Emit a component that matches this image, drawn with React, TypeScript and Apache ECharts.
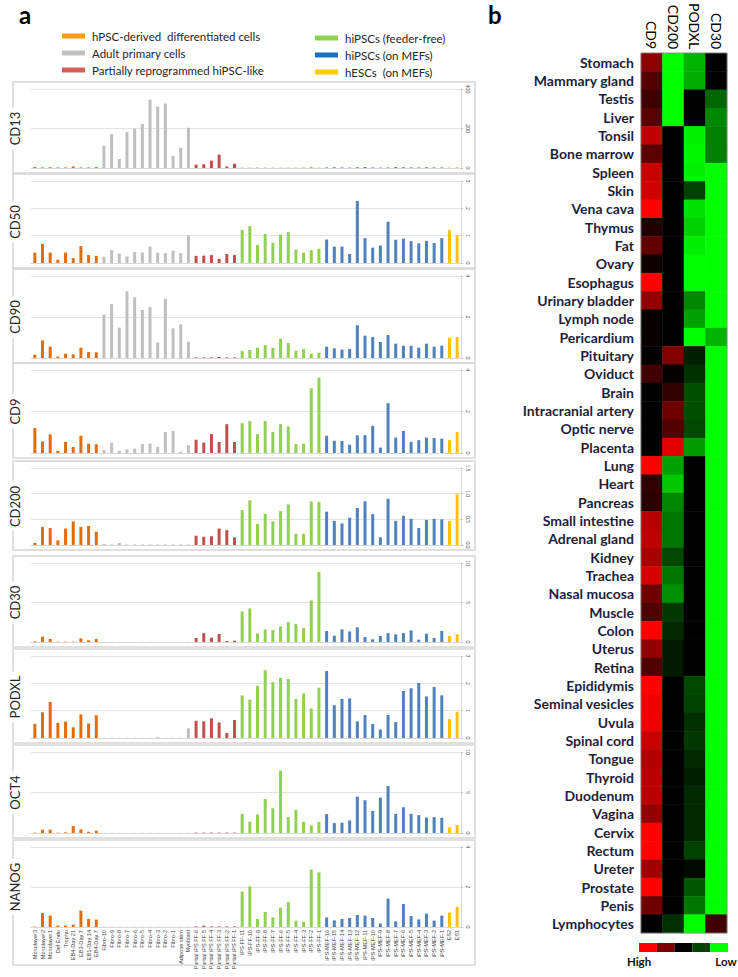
import React, { useEffect, useRef } from "react";
import * as echarts from "echarts";

// ---------- categories (panel a) ----------
const catDiff = ["Monolayer3", "Monolayer2", "Monolayer1", "Def Endo", "Tropho", "EB4-Day 21", "EB3-Day 7", "EB1-Day 14", "EB4-Day 7"];
const catAdult = ["Fibro-10", "Fibro-9", "Fibro-8", "Fibro-7", "Fibro-6", "Fibro-5", "Fibro-4", "Fibro-3", "Fibro-2", "Fibro-1", "Adipose stem", "Myoblast"];
const catPartial = ["Partial iPS FF-6", "Partial iPS FF-5", "Partial iPS FF-4", "Partial iPS FF-3", "Partial iPS FF-2", "Partial iPS FF-1"];
const catFF = ["iPS-FF-11", "iPS-FF-10", "iPS-FF-9", "iPS-FF-8", "iPS-FF-7", "iPS-FF-6", "iPS-FF-5", "iPS-FF-4", "iPS-FF-3", "iPS-FF-2", "iPS-FF-1"];
const catMEF = ["iPS-MEF-16", "iPS-MEF-15", "iPS-MEF-14", "iPS-MEF-13", "iPS-MEF-12", "iPS-MEF-11", "iPS-MEF-10", "iPS-MEF-9", "iPS-MEF-8", "iPS-MEF-7", "iPS-MEF-6", "iPS-MEF-5", "iPS-MEF-4", "iPS-MEF-3", "iPS-MEF-2", "iPS-MEF-1"];
const catES = ["ES2", "ES1"];

const groupNames = ["hPSC-derived  differentiated cells", "Adult primary cells", "Partially reprogrammed hiPSC-like", "hiPSCs (feeder-free)", "hiPSCs (on MEFs)", "hESCs  (on MEFs)"];
const groupCats = [catDiff, catAdult, catPartial, catFF, catMEF, catES];
const barColors = ["#E46C0A", "#BFBFBF", "#C0504D", "#92D050", "#4F81BD", "#FFC000"];
const legendColors = ["#FF9A1A", "#C0C0C0", "#D0605A", "#92D050", "#1F70C0", "#FFCC00"];

// ---------- values per marker (order = categories above) ----------
const CD13 = [5, 3, 4, 3, 3, 8, 3, 3, 5, 113, 172, 46, 182, 199, 223, 346, 311, 326, 62, 103, 204, 17, 19, 37, 68, 8, 22, 2, 2, 3, 2, 2, 2, 2, 2, 3, 6, 2, 3, 4, 3, 2, 4, 5, 3, 2, 3, 5, 4, 3, 3, 4, 3, 3, 2, 4];
const CD50 = [0.38, 0.7, 0.38, 0.12, 0.38, 0.18, 0.62, 0.29, 0.26, 0.23, 0.47, 0.35, 0.24, 0.4, 0.39, 0.6, 0.38, 0.36, 0.45, 0.36, 1.0, 0.26, 0.27, 0.29, 0.15, 0.33, 0.29, 1.21, 1.35, 0.66, 1.06, 0.74, 1.04, 1.13, 0.49, 0.38, 0.47, 0.52, 0.86, 0.6, 0.6, 0.33, 2.27, 0.91, 0.56, 0.64, 1.51, 0.85, 0.89, 0.8, 0.72, 0.81, 0.73, 0.91, 1.21, 1.01];
const CD90 = [0.16, 0.86, 0.55, 0.07, 0.21, 0.18, 0.5, 0.29, 0.28, 2.11, 2.63, 1.48, 3.25, 2.96, 2.34, 2.49, 0.76, 2.89, 1.45, 1.64, 0.8, 0.03, 0.03, 0.03, 0.05, 0.03, 0.03, 0.34, 0.39, 0.5, 0.63, 0.5, 0.94, 0.73, 0.36, 0.44, 0.21, 0.26, 0.55, 0.47, 0.41, 0.44, 1.59, 1.09, 1.02, 0.78, 1.12, 0.7, 0.6, 0.6, 0.5, 0.7, 0.55, 0.6, 0.99, 1.02];
const CD9 = [1.2, 0.56, 0.9, 0.11, 0.54, 0.29, 0.83, 0.45, 0.42, 0.14, 0.5, 0.1, 0.18, 0.21, 0.43, 0.45, 0.3, 1.01, 1.06, 0.06, 0.37, 0.64, 0.5, 0.91, 0.53, 1.39, 0.53, 1.44, 1.54, 0.91, 1.54, 1.02, 1.39, 1.28, 0.43, 0.45, 3.12, 3.63, 0.83, 0.59, 0.58, 0.4, 0.85, 0.86, 1.31, 0.26, 2.4, 0.74, 1.06, 0.54, 0.62, 0.74, 0.72, 0.69, 0.62, 1.01];
const CD200 = [0.04, 0.35, 0.33, 0.09, 0.32, 0.46, 0.35, 0.37, 0.26, 0.02, 0.01, 0.04, 0.01, 0.01, 0.01, 0.01, 0.01, 0.01, 0.01, 0.01, 0.01, 0.18, 0.16, 0.17, 0.32, 0.29, 0.15, 0.68, 0.87, 0.41, 0.61, 0.46, 0.66, 0.79, 0.22, 0.22, 0.85, 0.84, 0.65, 0.47, 0.42, 0.53, 0.72, 0.85, 0.6, 0.15, 0.9, 0.47, 0.57, 0.51, 0.33, 0.49, 0.51, 0.5, 0.47, 0.99];
const CD30 = [0.08, 0.67, 0.38, 0.04, 0.04, 0.04, 0.46, 0.21, 0.38, 0.02, 0.02, 0.02, 0.02, 0.02, 0.02, 0.02, 0.02, 0.02, 0.02, 0.02, 0.02, 0.5, 1.13, 0.55, 1.01, 0.13, 0.17, 3.87, 4.24, 1.09, 1.6, 1.51, 1.97, 2.52, 2.27, 1.76, 5.25, 8.87, 1.39, 0.8, 1.6, 1.34, 1.85, 0.63, 0.34, 0.76, 1.13, 0.97, 1.13, 1.47, 0.29, 1.05, 0.5, 1.39, 0.76, 0.97];
const PODXL = [0.52, 0.94, 1.32, 0.55, 0.6, 0.39, 0.86, 0.53, 0.83, 0.01, 0.01, 0.01, 0.01, 0.01, 0.01, 0.01, 0.03, 0.01, 0.01, 0.01, 0.35, 0.63, 0.61, 0.72, 0.57, 0.18, 0.66, 1.56, 1.4, 1.91, 2.48, 2.04, 2.2, 2.16, 1.43, 1.63, 1.08, 1.84, 2.45, 1.2, 1.43, 1.45, 0.61, 0.84, 0.51, 0.31, 0.84, 0.58, 1.72, 1.82, 2.02, 1.52, 1.87, 1.56, 0.69, 0.96];
const OCT4 = [0.04, 0.41, 0.41, 0.04, 0.08, 0.86, 0.45, 0.16, 0.29, 0.02, 0.02, 0.02, 0.02, 0.02, 0.02, 0.02, 0.02, 0.02, 0.02, 0.02, 0.02, 0.05, 0.05, 0.05, 0.05, 0.05, 0.05, 2.37, 1.39, 2.29, 4.2, 3.06, 7.71, 1.96, 2.86, 1.39, 0.94, 1.35, 2.33, 1.22, 1.27, 1.55, 4.49, 4.04, 2.73, 4.37, 5.8, 2.37, 3.18, 2.37, 2.2, 1.92, 1.96, 1.88, 0.69, 0.98];
const NANOG = [0.02, 0.7, 0.57, 0.07, 0.07, 0.12, 0.82, 0.4, 0.37, 0.01, 0.01, 0.01, 0.01, 0.01, 0.01, 0.01, 0.01, 0.01, 0.01, 0.01, 0.01, 0.03, 0.07, 0.03, 0.03, 0.03, 0.03, 1.77, 2.03, 0.4, 0.75, 0.48, 0.97, 1.25, 0.32, 0.27, 2.87, 2.73, 0.48, 0.33, 0.4, 0.45, 0.6, 0.57, 0.45, 0.17, 1.42, 0.28, 1.15, 0.55, 0.38, 0.67, 0.32, 0.57, 0.72, 1.0];

const markerNames = ["CD13", "CD50", "CD90", "CD9", "CD200", "CD30", "PODXL", "OCT4", "NANOG"];
const markerValues = [CD13, CD50, CD90, CD9, CD200, CD30, PODXL, OCT4, NANOG];
const markerMax = [400, 3, 4, 4, 1.5, 10, 3, 10, 4];
const markerStep = [200, 1, 2, 2, 0.5, 5, 1, 5, 2];

// ---------- heatmap (panel b) ----------
const hmColumns = ["CD9", "CD200", "PODXL", "CD30"];
const tissues = ["Stomach", "Mammary gland", "Testis", "Liver", "Tonsil", "Bone marrow", "Spleen", "Skin", "Vena cava", "Thymus", "Fat", "Ovary", "Esophagus", "Urinary bladder", "Lymph node", "Pericardium", "Pituitary", "Oviduct", "Brain", "Intracranial artery", "Optic nerve", "Placenta", "Lung", "Heart", "Pancreas", "Small intestine", "Adrenal gland", "Kidney", "Trachea", "Nasal mucosa", "Muscle", "Colon", "Uterus", "Retina", "Epididymis", "Seminal vesicles", "Uvula", "Spinal cord", "Tongue", "Thyroid", "Duodenum", "Vagina", "Cervix", "Rectum", "Ureter", "Prostate", "Penis", "Lymphocytes"];
// relative expression: +1 = high (red), 0 = black, -1 = low (green)
const hmCD9 = [0.55, 0.33, 0.25, 0.35, 0.75, 0.35, 0.78, 0.82, 1.0, 0.13, 0.38, 0.06, 1.0, 0.57, 0.03, 0.03, 0, 0.25, 0, 0, 0, 0, 1.0, 0.19, 0.16, 0.72, 0.75, 0.66, 0.85, 0.44, 0.31, 1.0, 0.57, 0.31, 1.0, 0.94, 0.94, 0.78, 0.69, 0.72, 0.72, 0.57, 1.0, 1.0, 0.63, 1.0, 0.44, 0];
const hmCD200 = [-1, -1, -1, -1, 0, 0, 0, 0, 0, 0, 0, 0, 0, 0, 0, 0, 0.5, 0.02, 0.19, 0.44, 0.31, 0.88, -0.63, -0.78, -0.53, -0.47, -0.47, -0.28, -0.47, -0.56, -0.22, -0.16, -0.1, -0.1, 0, 0, 0, 0, 0, 0, 0, 0, 0, 0, 0, 0, 0, -0.19];
const hmPODXL = [-0.7, -0.67, 0, 0, -0.95, -0.97, -0.95, -0.25, -0.88, -0.82, -0.94, -1, -1, -0.53, -0.63, -1, -0.12, -0.19, -0.31, -0.31, -0.28, -0.6, 0, 0, 0, 0, 0, 0, 0, 0, 0, 0, 0, 0, -0.28, -0.25, -0.19, -0.22, -0.16, -0.12, -0.16, -0.16, -0.16, -0.25, -0.03, -0.34, -0.47, -1];
const hmCD30 = [0, 0, -0.4, -0.53, -0.5, -0.5, -1, -1, -1, -1, -1, -1, -1, -1, -1, -0.7, -1, -1, -1, -1, -1, -1, -1, -1, -1, -1, -1, -1, -1, -1, -1, -1, -1, -1, -1, -1, -1, -1, -1, -1, -1, -1, -1, -1, -1, -1, -1, 0.25];
const hmLegendColors = ["#FF0000", "#7A0000", "#000000", "#004400", "#00FF00"];

// ---------- layout ----------
const panelTops = [89, 181, 276, 370, 468, 563, 656, 752, 847];
const panelHeights = [79, 82, 82, 83, 77, 79, 82, 81, 80];
const GRID_LEFT = 31;
const GRID_W = 430;
const FONT = "Lato, 'Liberation Sans', sans-serif";

export default function App() {
  const ref = useRef<HTMLDivElement>(null);

  useEffect(() => {
    if (!ref.current) return;
    const chart = echarts.init(ref.current, undefined, { renderer: "svg" });
    const categories = ([] as string[]).concat(...groupCats);

    const grids: any[] = [];
    const xAxes: any[] = [];
    const yAxes: any[] = [];
    const series: any[] = [];
    const graphics: any[] = [];

    markerNames.forEach((m, p) => {
      const last = p === markerNames.length - 1;
      grids.push({ left: GRID_LEFT, top: panelTops[p], width: GRID_W, height: panelHeights[p] });
      xAxes.push({
        type: "category",
        gridIndex: p,
        data: categories,
        axisLine: { show: true, lineStyle: { color: "#D9D9D9" } },
        axisTick: { show: false },
        axisLabel: last
          ? { show: true, rotate: 90, interval: 0, fontSize: 5.6, color: "#404040", margin: 3, fontFamily: "'Liberation Sans', sans-serif" }
          : { show: false },
      });
      yAxes.push({
        type: "value",
        gridIndex: p,
        position: "right",
        min: 0,
        max: markerMax[p],
        interval: markerStep[p],
        axisLine: { show: true, lineStyle: { color: "#D9D9D9" } },
        axisTick: { show: true, length: 2, lineStyle: { color: "#BFBFBF" } },
        splitLine: { show: true, lineStyle: { color: "#E3E3E3", width: 1 } },
        axisLabel: {
          show: true,
          rotate: -90,
          fontSize: 5,
          color: "#595959",
          margin: 4,
          formatter: (v: number) => (markerStep[p] < 1 ? v.toFixed(1) : String(v)),
        },
      });
      let offset = 0;
      groupCats.forEach((cats, g) => {
        const start = offset;
        const end = offset + cats.length;
        series.push({
          type: "bar",
          name: groupNames[g],
          xAxisIndex: p,
          yAxisIndex: p,
          stack: "s" + p,
          barWidth: 3,
          itemStyle: { color: barColors[g] },
          data: markerValues[p].map((v, i) => (i >= start && i < end ? v : "-")),
          silent: true,
        });
        offset = end;
      });
      // panel frame
      const boxTop = panelTops[p] - 7;
      const boxBottom = last ? 965 : panelTops[p] + panelHeights[p] + 5;
      graphics.push({
        type: "rect",
        shape: { x: 13, y: boxTop, width: 462, height: boxBottom - boxTop },
        style: { fill: "none", stroke: "#D6D6D6", lineWidth: 1.5 },
        silent: true,
        z: 1,
      });
      graphics.push({
        type: "text",
        x: 15,
        y: panelTops[p] + panelHeights[p] / 2,
        rotation: Math.PI / 2,
        style: {
          text: m,
          font: `13px ${FONT}`,
          fill: "#262626",
          textAlign: "center",
          textVerticalAlign: "middle",
          backgroundColor: "#fff",
          padding: [0, 4],
        },
        z: 5,
      });
    });

    // heatmap grid
    const hg = markerNames.length;
    grids.push({ left: 641, top: 53, width: 86, height: 880 });
    xAxes.push({
      type: "category",
      gridIndex: hg,
      data: hmColumns,
      position: "top",
      axisLine: { show: false },
      axisTick: { show: false },
      splitArea: { show: false },
      axisLabel: { rotate: 90, fontSize: 14, color: "#000", margin: 4, fontFamily: FONT },
    });
    yAxes.push({
      type: "category",
      gridIndex: hg,
      data: tissues,
      inverse: true,
      axisLine: { show: false },
      axisTick: { show: false },
      splitArea: { show: false },
      axisLabel: { fontSize: 14, fontWeight: "bold", color: "#1E1E3C", margin: 7, fontFamily: FONT },
    });
    const hmCols = [hmCD9, hmCD200, hmPODXL, hmCD30];
    const hmData: any[] = [];
    hmCols.forEach((col, c) => col.forEach((v, r) => hmData.push([c, r, v])));
    series.push({
      type: "heatmap",
      xAxisIndex: hg,
      yAxisIndex: hg,
      data: hmData,
      silent: true,
      itemStyle: { borderWidth: 0 },
    });
    graphics.push({
      type: "rect",
      shape: { x: 641, y: 53, width: 86, height: 880 },
      style: { fill: "none", stroke: "#8C8C8C", lineWidth: 0.8 },
      silent: true,
      z: 10,
    });

    // heatmap colour key
    hmLegendColors.forEach((c, i) => {
      graphics.push({
        type: "rect",
        shape: { x: 639 + i * 17.8, y: 943, width: 17.9, height: 9 },
        style: { fill: c },
        silent: true,
      });
    });
    graphics.push({ type: "text", x: 639, y: 961, style: { text: "High", font: `bold 11.5px ${FONT}`, fill: "#111", textAlign: "center", textVerticalAlign: "middle" } });
    graphics.push({ type: "text", x: 726, y: 961, style: { text: "Low", font: `bold 11.5px ${FONT}`, fill: "#111", textAlign: "center", textVerticalAlign: "middle" } });

    // panel letters
    graphics.push({ type: "text", x: 19, y: 14, style: { text: "a", font: `bold 24px ${FONT}`, fill: "#000", textAlign: "left", textVerticalAlign: "middle" } });
    graphics.push({ type: "text", x: 488, y: 14, style: { text: "b", font: `bold 24px ${FONT}`, fill: "#000", textAlign: "left", textVerticalAlign: "middle" } });

    const legendItem = (g: number) => ({ name: groupNames[g], itemStyle: { color: legendColors[g] } });
    const legendCommon = {
      orient: "vertical",
      icon: "rect",
      itemWidth: 23,
      itemHeight: 5,
      itemGap: 3,
      selectedMode: false,
      textStyle: { fontSize: 11.5, color: "#262626", fontFamily: FONT, padding: [0, 0, 0, 2], lineHeight: 14 },
    };

    chart.setOption({
      animation: false,
      backgroundColor: "#fff",
      textStyle: { fontFamily: FONT },
      legend: [
        { ...legendCommon, left: 57, top: 24, data: [0, 1, 2].map(legendItem) },
        { ...legendCommon, left: 310, top: 26, data: [3, 4, 5].map(legendItem) },
      ],
      visualMap: {
        show: false,
        type: "continuous",
        min: -1,
        max: 1,
        seriesIndex: series.length - 1,
        inRange: { color: ["#00FF00", "#000000", "#FF0000"] },
      },
      grid: grids,
      xAxis: xAxes,
      yAxis: yAxes,
      series,
      graphic: graphics,
    });

    return () => chart.dispose();
  }, []);

  return <div ref={ref} style={{ position: "absolute", left: 0, top: 0, width: 738, height: 977 }} />;
}
